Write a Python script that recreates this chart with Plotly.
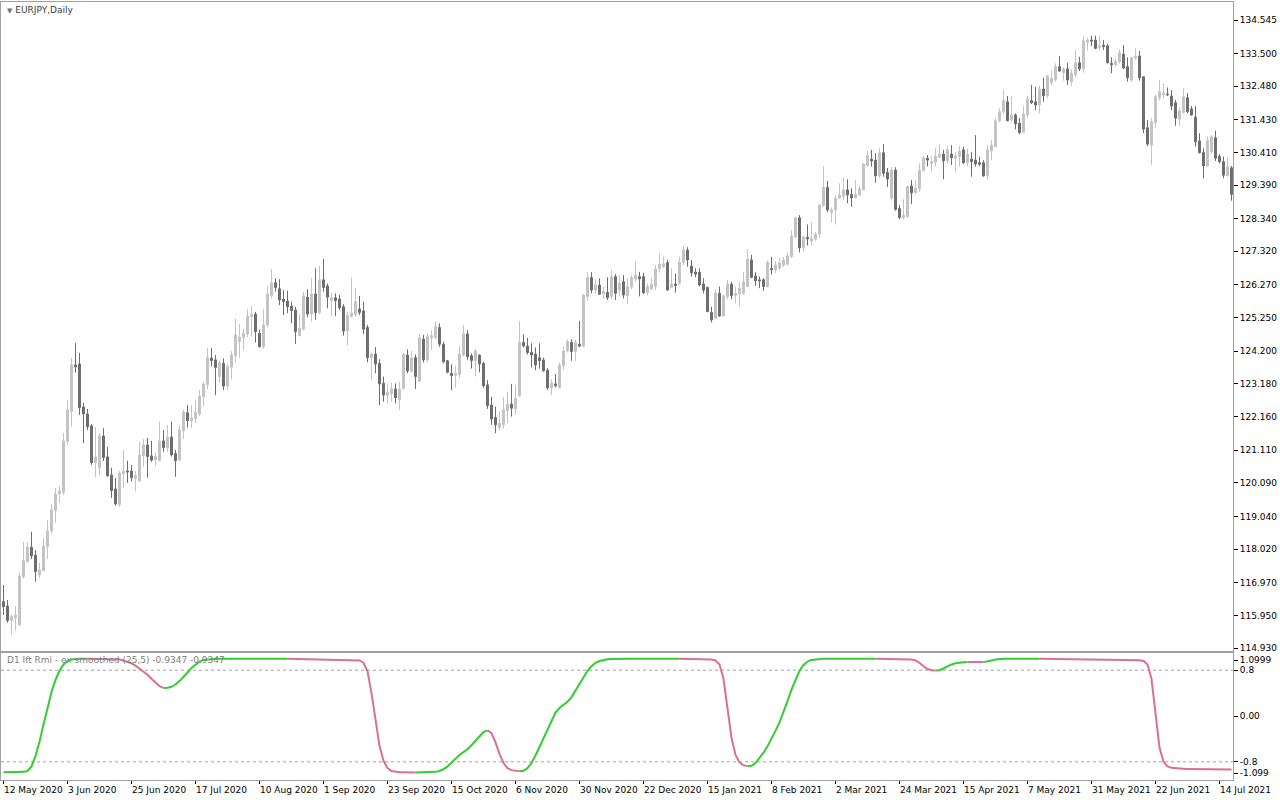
import pandas as pd
import plotly.graph_objects as go

# ---------------- data ----------------
symbol_title = "EURJPY,Daily"
indicator_title = "D1 Ift Rmi - ex smoothed (25,5) -0.9347 -0.9347"
start_date = "2020-05-12"
holidays = ["2020-12-25", "2021-01-01"]

opens = [
    116.38, 116.24, 115.79, 115.88, 115.66, 117.16, 117.63, 118.08, 117.83, 117.21,
    117.35, 118.09, 118.59, 119.22, 119.74, 119.79, 121.38, 122.32, 123.77, 123.80,
    122.46, 122.24, 121.87, 120.72, 120.56, 121.55, 120.90, 120.33, 119.90, 119.41,
    120.37, 120.46, 120.46, 120.22, 120.15, 120.93, 121.27, 120.93, 120.80, 120.78,
    121.40, 121.19, 121.52, 121.00, 120.80, 121.72, 122.28, 122.03, 122.10, 122.24,
    122.78, 123.15, 123.99, 123.93, 123.41, 123.82, 123.11, 123.70, 124.06, 124.50,
    124.63, 124.74, 125.28, 125.36, 124.76, 124.34, 125.02, 125.93, 126.34, 126.15,
    125.83, 125.77, 125.61, 125.49, 124.69, 124.89, 125.89, 125.36, 125.99, 125.41,
    126.43, 126.24, 125.78, 125.87, 125.83, 125.59, 124.83, 125.28, 125.35, 125.52,
    125.46, 124.94, 124.01, 124.11, 123.82, 123.20, 122.83, 122.87, 123.02, 122.69,
    123.04, 124.08, 123.58, 124.00, 123.27, 124.58, 123.93, 124.62, 124.62, 124.94,
    124.42, 123.90, 123.51, 123.44, 123.46, 124.08, 124.74, 124.06, 123.91, 124.08,
    123.82, 123.15, 122.52, 122.13, 121.82, 121.90, 122.34, 122.55, 122.40, 122.81,
    124.48, 124.36, 124.17, 124.11, 124.00, 123.93, 123.61, 123.06, 123.18, 123.06,
    123.75, 124.21, 124.48, 124.19, 124.42, 124.36, 125.91, 126.50, 126.11, 126.27,
    125.99, 126.04, 125.91, 126.53, 126.11, 126.37, 125.94, 126.20, 126.46, 126.53,
    126.53, 126.04, 126.15, 126.22, 126.77, 126.84, 126.97, 126.20, 126.30, 126.32,
    126.98, 127.36, 126.86, 126.67, 126.67, 126.30, 126.19, 125.41, 125.23, 126.01,
    125.30, 125.91, 126.29, 125.94, 125.99, 126.01, 126.22, 127.05, 126.55, 126.43,
    126.43, 126.22, 126.79, 126.74, 126.80, 126.89, 126.92, 127.15, 127.77, 128.37,
    127.43, 127.76, 127.64, 127.70, 127.86, 128.75, 129.32, 128.53, 128.61, 128.98,
    129.03, 129.24, 129.10, 128.99, 129.08, 129.24, 130.00, 130.20, 130.17, 129.68,
    130.40, 129.78, 128.98, 129.86, 128.66, 128.38, 128.40, 129.36, 129.16, 129.27,
    129.84, 130.23, 130.07, 130.10, 130.26, 130.36, 130.15, 130.36, 130.23, 130.28,
    130.49, 130.09, 130.20, 130.17, 130.09, 130.09, 129.68, 130.46, 130.59, 131.40,
    131.68, 131.99, 131.42, 131.58, 131.32, 131.03, 131.58, 132.03, 131.99, 131.89,
    132.39, 132.18, 132.59, 132.69, 133.09, 132.90, 133.02, 132.62, 132.83, 133.21,
    133.02, 133.84, 133.92, 133.92, 133.69, 133.76, 133.74, 133.19, 133.14, 133.24,
    133.48, 133.09, 132.67, 133.35, 133.42, 132.77, 131.18, 130.64, 131.34, 132.12,
    132.22, 132.23, 132.17, 131.96, 131.45, 131.66, 132.12, 131.77, 131.51, 130.77,
    130.41, 129.99, 130.43, 130.87, 130.28, 130.12, 129.68, 129.93,
]
highs = [
    116.90, 116.43, 115.96, 116.24, 117.29, 118.25, 118.25, 118.56, 117.99, 117.59,
    118.37, 118.93, 119.43, 119.93, 119.99, 121.65, 122.66, 123.99, 124.46, 124.15,
    122.59, 122.40, 121.93, 121.83, 121.65, 121.80, 121.21, 120.56, 120.24, 120.46,
    121.12, 120.78, 120.65, 120.46, 121.38, 121.46, 121.49, 121.40, 121.02, 122.00,
    121.74, 121.90, 122.00, 121.12, 121.90, 122.37, 122.52, 122.52, 122.68, 122.99,
    123.25, 124.30, 124.30, 124.08, 123.93, 123.98, 123.79, 124.21, 125.21, 125.05,
    124.90, 125.51, 125.61, 125.43, 124.88, 125.51, 126.24, 126.77, 126.48, 126.45,
    126.11, 126.09, 125.75, 125.59, 125.36, 126.06, 126.14, 126.48, 126.79, 126.87,
    127.08, 126.32, 126.03, 126.01, 125.96, 125.67, 125.43, 126.50, 126.17, 125.93,
    125.75, 125.02, 124.16, 124.33, 123.95, 123.41, 123.20, 123.22, 123.20, 123.25,
    124.15, 124.26, 124.21, 124.10, 124.74, 124.71, 124.76, 124.86, 125.12, 125.07,
    124.50, 123.93, 123.79, 123.75, 124.37, 125.02, 124.86, 124.13, 124.29, 124.10,
    123.87, 123.30, 122.78, 122.47, 122.32, 122.78, 122.94, 123.18, 123.15, 125.14,
    124.73, 124.62, 124.45, 124.32, 124.45, 124.00, 123.67, 123.32, 123.49, 123.84,
    124.36, 124.57, 124.57, 124.55, 125.15, 125.99, 126.67, 126.67, 126.45, 126.48,
    126.22, 126.51, 126.74, 126.61, 126.58, 126.58, 126.48, 126.58, 127.02, 126.68,
    126.65, 126.32, 126.48, 126.89, 127.26, 127.15, 127.05, 126.79, 126.63, 127.15,
    127.50, 127.45, 127.05, 126.79, 126.79, 126.48, 126.22, 125.59, 126.14, 126.22,
    125.96, 126.43, 126.37, 126.22, 126.37, 126.67, 127.38, 127.21, 126.67, 126.53,
    126.48, 127.03, 127.15, 127.02, 127.11, 127.14, 127.29, 127.99, 128.40, 128.45,
    127.80, 128.16, 128.23, 127.93, 128.80, 129.99, 129.52, 128.69, 129.06, 129.45,
    129.63, 129.57, 129.29, 129.55, 129.37, 130.08, 130.46, 130.49, 130.38, 130.54,
    130.67, 129.92, 129.95, 129.95, 128.77, 128.95, 129.39, 129.55, 129.55, 130.07,
    130.30, 130.33, 130.28, 130.54, 130.67, 130.49, 130.61, 130.64, 130.43, 130.61,
    130.59, 130.54, 130.43, 130.95, 130.28, 130.17, 130.64, 130.80, 131.48, 131.79,
    132.36, 132.17, 132.17, 131.63, 131.48, 131.86, 132.17, 132.52, 132.46, 132.49,
    132.74, 132.83, 132.96, 133.19, 133.42, 133.07, 133.21, 133.01, 133.61, 133.40,
    134.05, 134.00, 134.05, 134.06, 134.05, 133.92, 133.80, 133.38, 133.32, 133.63,
    133.76, 133.38, 133.40, 133.66, 133.58, 132.79, 131.42, 131.48, 132.20, 132.67,
    132.57, 132.44, 132.36, 132.05, 131.82, 132.41, 132.26, 131.86, 131.86, 131.01,
    130.54, 130.90, 130.95, 131.09, 130.36, 130.28, 130.26, 129.99,
]
lows = [
    115.96, 115.72, 115.37, 115.48, 115.62, 117.09, 117.59, 117.71, 117.00, 117.12,
    117.32, 117.71, 118.50, 118.85, 119.46, 119.71, 121.27, 121.84, 123.53, 122.21,
    121.33, 121.74, 120.65, 120.27, 120.33, 120.77, 120.28, 119.62, 119.38, 119.34,
    119.93, 120.09, 120.13, 119.82, 120.13, 120.59, 120.25, 120.75, 120.62, 120.76,
    121.06, 121.06, 120.91, 120.28, 120.78, 121.46, 121.82, 121.80, 121.96, 122.18,
    122.49, 123.02, 123.72, 122.83, 123.22, 122.99, 122.99, 123.33, 123.84, 124.00,
    124.24, 124.64, 124.66, 124.47, 124.32, 124.27, 124.95, 125.85, 126.06, 125.64,
    125.33, 125.39, 125.07, 124.43, 124.66, 124.86, 125.26, 125.12, 125.18, 125.36,
    126.06, 125.54, 125.28, 125.30, 125.49, 124.69, 124.39, 125.26, 125.28, 125.33,
    124.74, 123.85, 123.30, 123.51, 122.52, 122.62, 122.57, 122.62, 122.57, 122.37,
    122.99, 123.51, 123.54, 123.02, 123.24, 123.85, 123.85, 124.24, 124.58, 124.34,
    123.82, 123.51, 122.99, 123.06, 123.36, 124.03, 123.93, 123.66, 123.41, 123.54,
    123.06, 122.40, 121.90, 121.64, 121.74, 121.79, 121.95, 122.16, 122.23, 122.78,
    124.32, 124.10, 123.69, 123.61, 123.66, 123.56, 122.99, 122.83, 123.07, 123.04,
    123.61, 124.16, 123.90, 123.90, 124.32, 124.33, 125.78, 126.01, 125.99, 125.96,
    125.83, 125.80, 125.85, 125.80, 125.91, 125.85, 125.68, 126.14, 126.37, 125.91,
    125.98, 125.94, 126.11, 126.11, 126.65, 126.79, 126.09, 126.17, 126.03, 126.28,
    126.89, 126.84, 126.53, 126.51, 126.22, 126.01, 125.42, 125.10, 125.20, 125.28,
    125.28, 125.82, 125.82, 125.70, 125.59, 125.96, 126.20, 126.48, 126.24, 126.17,
    126.09, 126.19, 126.60, 126.64, 126.74, 126.83, 126.89, 127.11, 127.73, 127.29,
    127.29, 127.50, 127.52, 127.65, 127.75, 128.72, 128.54, 128.23, 128.16, 128.95,
    128.92, 128.82, 128.71, 128.98, 129.05, 129.22, 129.97, 129.97, 129.46, 129.61,
    129.65, 129.33, 128.90, 128.59, 128.32, 128.32, 128.38, 128.80, 129.11, 129.18,
    129.81, 129.97, 129.81, 129.97, 130.23, 129.57, 130.07, 130.02, 129.78, 129.97,
    130.05, 129.97, 129.65, 129.97, 129.97, 129.65, 129.55, 130.17, 130.57, 131.34,
    131.61, 131.38, 131.37, 131.13, 130.98, 131.01, 131.48, 131.92, 131.73, 131.63,
    131.99, 132.10, 132.52, 132.62, 132.93, 132.65, 132.52, 132.48, 132.76, 132.95,
    132.90, 133.59, 133.73, 133.63, 133.61, 133.61, 133.19, 132.88, 133.11, 133.19,
    133.01, 132.62, 132.62, 133.30, 132.65, 131.01, 130.61, 130.02, 131.19, 132.03,
    132.10, 132.17, 131.73, 131.24, 131.24, 131.61, 131.63, 131.55, 130.59, 130.38,
    129.60, 129.95, 130.36, 130.14, 130.07, 129.60, 129.65, 128.90,
]
closes = [
    116.22, 115.79, 115.91, 115.96, 117.18, 117.66, 118.08, 117.81, 117.32, 117.37,
    118.12, 118.59, 119.24, 119.74, 119.84, 121.40, 122.37, 123.77, 123.71, 122.44,
    122.24, 121.84, 120.72, 120.90, 121.55, 120.88, 120.31, 119.85, 119.43, 120.40,
    120.46, 120.43, 120.25, 120.31, 120.96, 121.27, 120.91, 120.80, 120.91, 121.40,
    121.19, 121.52, 120.96, 120.78, 121.74, 122.30, 122.03, 122.12, 122.30, 122.80,
    123.18, 123.99, 123.91, 123.69, 123.84, 123.11, 123.72, 124.08, 124.71, 124.64,
    124.76, 125.30, 125.35, 124.81, 124.34, 125.02, 125.99, 126.34, 126.19, 125.80,
    125.75, 125.59, 125.47, 124.81, 124.92, 125.93, 125.36, 125.99, 125.41, 126.43,
    126.19, 125.89, 125.87, 125.78, 125.56, 124.83, 125.33, 125.39, 125.75, 125.41,
    124.89, 124.00, 124.11, 123.80, 123.18, 122.83, 122.91, 123.04, 122.75, 123.01,
    124.10, 123.58, 123.99, 123.41, 124.62, 123.93, 124.66, 124.69, 124.97, 124.42,
    123.87, 123.54, 123.44, 123.51, 124.11, 124.74, 124.03, 123.91, 124.21, 123.80,
    123.12, 122.50, 122.08, 121.90, 121.95, 122.37, 122.55, 122.42, 122.73, 124.47,
    124.37, 124.16, 124.08, 123.77, 123.91, 123.59, 123.06, 123.20, 123.12, 123.77,
    124.21, 124.50, 124.19, 124.48, 124.36, 125.94, 126.50, 126.11, 126.27, 125.98,
    126.06, 125.87, 126.53, 126.01, 126.34, 125.96, 126.22, 126.50, 126.58, 126.46,
    126.03, 126.22, 126.29, 126.77, 126.92, 126.93, 126.11, 126.30, 126.25, 126.98,
    127.36, 127.05, 126.65, 126.61, 126.27, 126.11, 125.44, 125.18, 126.01, 125.30,
    125.93, 126.30, 125.94, 126.01, 126.17, 126.37, 127.08, 126.51, 126.40, 126.40,
    126.22, 126.98, 126.74, 126.89, 126.96, 127.05, 127.18, 127.80, 128.37, 127.43,
    127.77, 127.71, 127.73, 127.86, 128.77, 129.32, 128.61, 128.61, 128.98, 129.08,
    129.24, 129.08, 128.99, 129.10, 129.27, 130.05, 130.30, 130.14, 129.68, 130.40,
    129.76, 129.58, 129.86, 128.63, 128.38, 128.45, 129.34, 129.15, 129.29, 129.86,
    130.24, 130.17, 130.12, 130.30, 130.36, 130.15, 130.49, 130.24, 130.30, 130.45,
    130.09, 130.36, 130.12, 130.05, 130.04, 129.68, 130.49, 130.64, 131.40, 131.68,
    132.03, 131.40, 131.58, 131.30, 131.03, 131.61, 132.08, 131.96, 131.89, 132.39,
    132.18, 132.80, 132.72, 133.09, 132.95, 133.02, 132.67, 132.88, 133.21, 133.02,
    133.90, 133.92, 133.89, 133.66, 133.73, 133.71, 133.21, 133.15, 133.26, 133.52,
    133.05, 132.74, 133.37, 133.42, 132.74, 131.14, 130.67, 131.37, 132.15, 132.31,
    132.27, 132.21, 131.86, 131.48, 131.71, 132.15, 131.68, 131.58, 130.74, 130.40,
    129.99, 130.78, 130.90, 130.23, 130.12, 129.70, 129.96, 129.10,
]
ift_rmi = [
    -0.98, -0.98, -0.98, -0.98, -0.98, -0.975, -0.96, -0.88, -0.70, -0.45,
    -0.15, 0.15, 0.42, 0.63, 0.79, 0.90, 0.96, 0.985, 0.995, 0.999,
    1.0, 1.0, 0.999, 0.998, 0.997, 0.996, 0.995, 0.993, 0.99, 0.985,
    0.97, 0.95, 0.92, 0.88, 0.83, 0.78, 0.72, 0.65, 0.58, 0.52,
    0.49, 0.492, 0.51, 0.55, 0.61, 0.68, 0.76, 0.84, 0.90, 0.95,
    0.98, 0.99, 0.995, 0.998, 1.0, 1.0, 1.0, 1.0, 1.0, 1.0,
    1.0, 1.0, 1.0, 1.0, 1.0, 1.0, 1.0, 1.0, 1.0, 1.0,
    1.0, 1.0, 0.999, 0.998, 0.997, 0.996, 0.995, 0.994, 0.993, 0.992,
    0.991, 0.990, 0.989, 0.988, 0.987, 0.986, 0.985, 0.983, 0.980, 0.97,
    0.93, 0.78, 0.40, -0.10, -0.52, -0.78, -0.91, -0.96, -0.975, -0.98,
    -0.982, -0.984, -0.986, -0.988, -0.987, -0.985, -0.983, -0.98, -0.975, -0.96,
    -0.93, -0.88, -0.81, -0.74, -0.68, -0.63, -0.58, -0.51, -0.43, -0.35,
    -0.28, -0.25, -0.30, -0.46, -0.66, -0.82, -0.91, -0.945, -0.96, -0.965,
    -0.955, -0.91, -0.82, -0.69, -0.54, -0.39, -0.23, -0.07, 0.06, 0.14,
    0.19, 0.25, 0.33, 0.44, 0.56, 0.68, 0.79, 0.87, 0.93, 0.96,
    0.98, 0.99, 0.995, 0.999, 1.0, 1.0, 1.0, 1.0, 1.0, 1.0,
    1.0, 1.0, 1.0, 1.0, 1.0, 1.0, 1.0, 1.0, 1.0, 1.0,
    0.999, 0.998, 0.997, 0.996, 0.995, 0.994, 0.992, 0.988, 0.97, 0.90,
    0.65, 0.15, -0.38, -0.68, -0.81, -0.86, -0.875, -0.87, -0.82, -0.74,
    -0.64, -0.53, -0.40, -0.26, -0.11, 0.06, 0.26, 0.46, 0.64, 0.79,
    0.89, 0.95, 0.98, 0.99, 0.997, 1.0, 1.0, 1.0, 1.0, 1.0,
    1.0, 1.0, 1.0, 1.0, 1.0, 1.0, 1.0, 1.0, 1.0, 0.999,
    0.998, 0.997, 0.996, 0.995, 0.994, 0.993, 0.991, 0.985, 0.97, 0.93,
    0.87, 0.82, 0.80, 0.795, 0.80, 0.83, 0.87, 0.90, 0.92, 0.935,
    0.94, 0.945, 0.944, 0.943, 0.942, 0.941, 0.95, 0.97, 0.985, 0.995,
    1.0, 1.0, 1.0, 1.0, 1.0, 1.0, 1.0, 1.0, 1.0, 1.0,
    0.999, 0.998, 0.997, 0.996, 0.995, 0.994, 0.993, 0.992, 0.991, 0.990,
    0.989, 0.988, 0.987, 0.986, 0.985, 0.984, 0.983, 0.982, 0.981, 0.980,
    0.979, 0.978, 0.977, 0.976, 0.975, 0.96, 0.90, 0.65, 0.05, -0.55,
    -0.80, -0.88, -0.905, -0.915, -0.92, -0.922, -0.924, -0.926, -0.928, -0.929,
    -0.930, -0.931, -0.932, -0.933, -0.9335, -0.934, -0.9345, -0.9347,
]
price_ticks = [134.545, 133.500, 132.480, 131.430, 130.410, 129.390, 128.340,
               127.320, 126.270, 125.250, 124.200, 123.180, 122.160, 121.110,
               120.090, 119.040, 118.020, 116.970, 115.950, 114.930]
ind_tick_vals = [0.977, 0.8, 0.0, -0.8, -0.995]
ind_tick_text = ["1.0999", "0.8", "0.00", "-0.8", "-1.099"]
level_lines = [0.8, -0.8]
label_every = 16

# ---------------- styles ----------------
BULL_FILL = "#C4C4C4"
BULL_LINE = "#C4C4C4"
BEAR_FILL = "#6E6E6E"
BEAR_LINE = "#6E6E6E"
UP_COLOR = "#32CD32"
DOWN_COLOR = "#DB7093"
FRAME = "#A0A0A0"
FONT = "DejaVu Sans"

n = len(closes)
dates = pd.bdate_range(start=start_date, periods=n, freq="C", holidays=holidays)
cats = [d.strftime("%Y-%m-%d") for d in dates]

# segment k joins point k-1 to point k; colour it by direction
seg_down = [False] + [ift_rmi[i] < ift_rmi[i - 1] for i in range(1, n)]


def part(want_down):
    out = []
    for i in range(n):
        left = i > 0 and seg_down[i] == want_down
        right = i + 1 < n and seg_down[i + 1] == want_down
        out.append(ift_rmi[i] if (left or right) else None)
    return out


up_part = part(False)
down_part = part(True)

fig = go.Figure()
fig.add_trace(go.Candlestick(
    x=cats, open=opens, high=highs, low=lows, close=closes,
    increasing=dict(line=dict(color=BULL_LINE, width=1), fillcolor=BULL_FILL),
    decreasing=dict(line=dict(color=BEAR_LINE, width=1), fillcolor=BEAR_FILL),
    whiskerwidth=0, xaxis="x", yaxis="y", showlegend=False, hoverinfo="skip"))
fig.add_trace(go.Scatter(x=cats, y=up_part, mode="lines", connectgaps=False,
                         line=dict(color=UP_COLOR, width=2),
                         xaxis="x2", yaxis="y2", showlegend=False, hoverinfo="skip"))
fig.add_trace(go.Scatter(x=cats, y=down_part, mode="lines", connectgaps=False,
                         line=dict(color=DOWN_COLOR, width=2),
                         xaxis="x2", yaxis="y2", showlegend=False, hoverinfo="skip"))

x_range = [-0.625, n - 0.625]
label_idx = list(range(0, n, label_every))
common_x = dict(type="category", range=x_range, showgrid=False, zeroline=False,
                showline=True, mirror=True, linecolor=FRAME, linewidth=1,
                rangeslider=dict(visible=False), automargin=False)

fig.update_layout(
    width=1280, height=800,
    margin=dict(l=1, r=47, t=2, b=20, autoexpand=False),
    paper_bgcolor="white", plot_bgcolor="white",
    font=dict(family=FONT, size=9, color="#000000"),
    xaxis=dict(**common_x, anchor="y", domain=[0, 1], showticklabels=False),
    xaxis2=dict(**common_x, anchor="y2", domain=[0, 1],
                tickmode="array", tickvals=[cats[i] for i in label_idx],
                ticks="outside", ticklen=3, tickcolor="#000000",
                showticklabels=False),
    yaxis=dict(domain=[0.1658, 1], range=[114.837, 135.108], side="right",
               tickmode="array", tickvals=price_ticks,
               ticktext=[f"{v:.3f}" for v in price_ticks],
               ticks="outside", ticklen=4, tickcolor="#000000",
               showgrid=False, zeroline=False, showline=True, mirror=True,
               linecolor=FRAME, linewidth=1, tickfont=dict(size=9), automargin=False),
    yaxis2=dict(domain=[0, 0.1632], range=[-1.117, 1.0995], side="right",
                tickmode="array", tickvals=ind_tick_vals, ticktext=ind_tick_text,
                ticks="outside", ticklen=4, tickcolor="#000000",
                showgrid=False, zeroline=False, showline=True, mirror=True,
                linecolor=FRAME, linewidth=1, tickfont=dict(size=9), automargin=False),
)

for lv in level_lines:
    fig.add_shape(type="line", xref="x2 domain", x0=0, x1=1, yref="y2", y0=lv, y1=lv,
                  line=dict(color="#A0A0A0", width=1, dash="3px,3px"), layer="below")

annotations = []
for i in label_idx:
    d = dates[i]
    annotations.append(dict(
        x=cats[i], xref="x2", y=0, yref="paper", yanchor="top", xanchor="left",
        yshift=-3, xshift=-2, text=f"{d.day} {d.strftime('%b %Y')}", showarrow=False,
        font=dict(family=FONT, size=9, color="#000000")))
annotations.append(dict(
    x=0.003, xref="paper", y=1 - 8 / 778, yref="paper", xanchor="left", yanchor="middle",
    text="<span style='font-size:7px;color:#707070'>▼</span> " + symbol_title,
    showarrow=False, font=dict(family=FONT, size=9, color="#404040")))
annotations.append(dict(
    x=0.003, xref="paper", y=1 - 658 / 778, yref="paper", xanchor="left",
    yanchor="middle", text=indicator_title, showarrow=False,
    font=dict(family=FONT, size=9, color="#808080")))
fig.update_layout(annotations=annotations)

fig.write_html("out.html", config={"displayModeBar": False, "staticPlot": True},
               post_script="document.body.style.margin='0';")
